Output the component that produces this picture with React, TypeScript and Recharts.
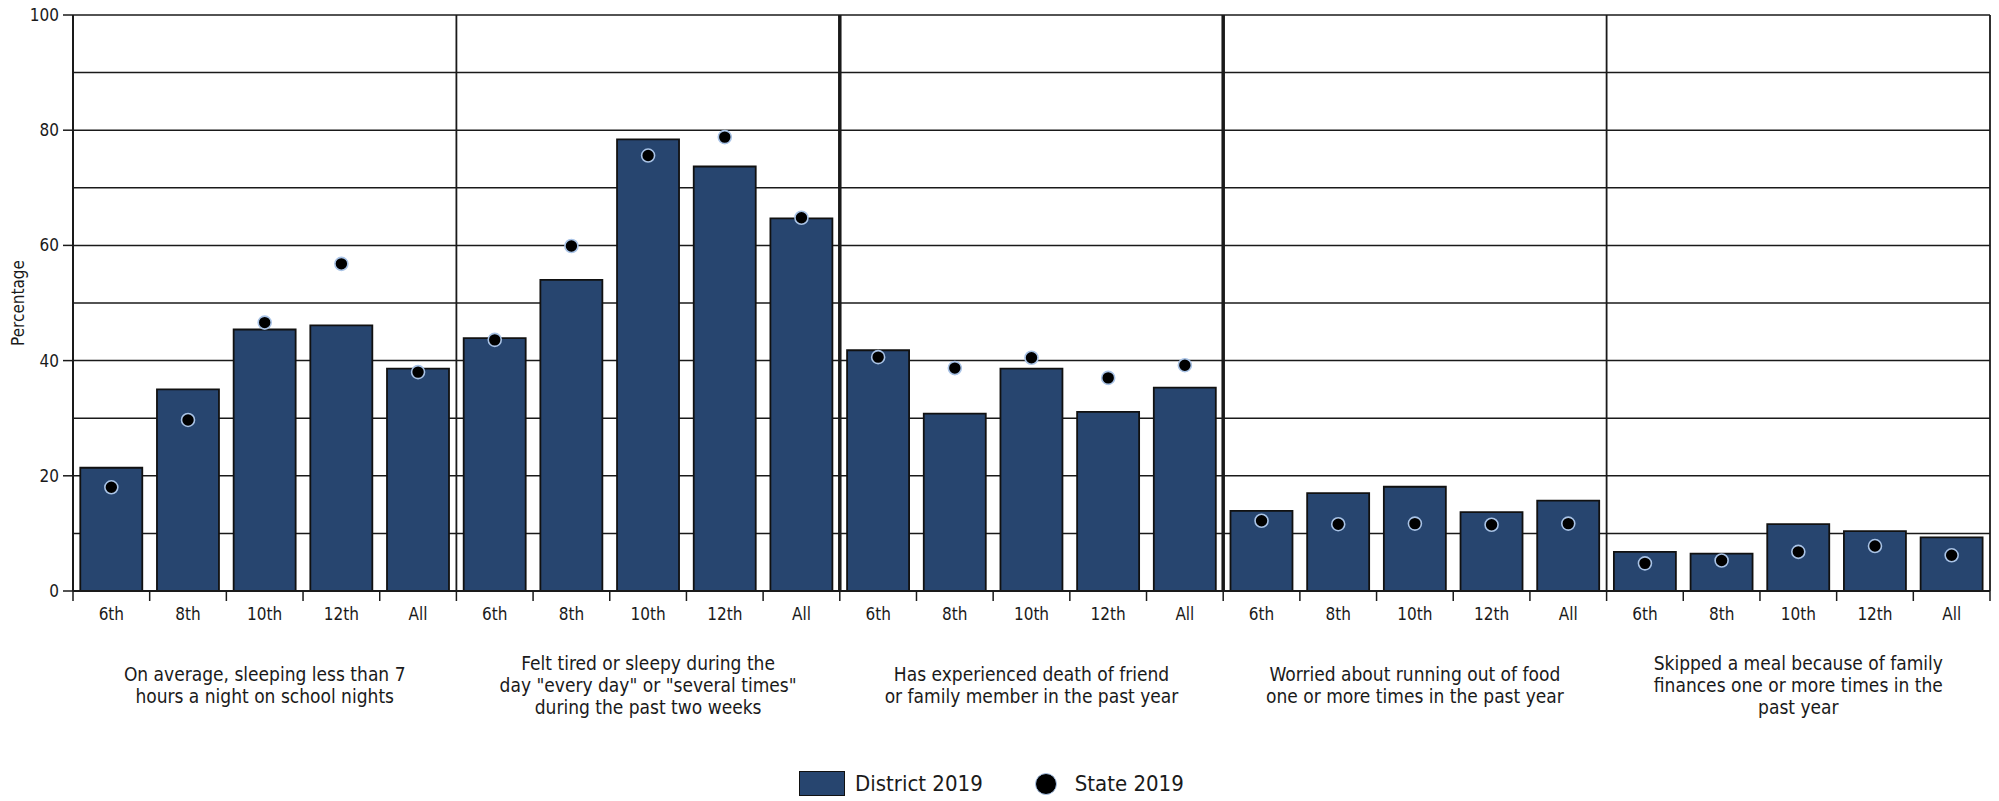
import React from "react";
import { ComposedChart, Bar, Line, XAxis, YAxis, CartesianGrid } from "recharts";

const grades = ["6th", "8th", "10th", "12th", "All"];

const groupLabels = [
  ["On average, sleeping less than 7", "hours a night on school nights"],
  ["Felt tired or sleepy during the", 'day "every day" or "several times"', "during the past two weeks"],
  ["Has experienced death of friend", "or family member in the past year"],
  ["Worried about running out of food", "one or more times in the past year"],
  ["Skipped a meal because of family", "finances one or more times in the", "past year"],
];

const district2019 = [
  [21.4, 35.0, 45.4, 46.1, 38.6],
  [43.9, 54.0, 78.4, 73.7, 64.7],
  [41.8, 30.8, 38.6, 31.1, 35.3],
  [13.9, 17.0, 18.1, 13.7, 15.7],
  [6.8, 6.5, 11.6, 10.4, 9.3],
];

const state2019 = [
  [18.0, 29.7, 46.6, 56.8, 38.0],
  [43.6, 59.9, 75.6, 78.8, 64.8],
  [40.6, 38.7, 40.5, 37.0, 39.2],
  [12.2, 11.6, 11.7, 11.5, 11.7],
  [4.8, 5.3, 6.8, 7.8, 6.2],
];

const yTicks = [0, 10, 20, 30, 40, 50, 60, 70, 80, 90, 100];

const rows = groupLabels.flatMap((_, g) =>
  grades.map((grade, i) => ({
    key: `${g}-${grade}`,
    grade,
    group: g,
    district: district2019[g][i],
    state: state2019[g][i],
  }))
);

const W = 1999;
const H = 801;
const MARGIN = { top: 15, right: 9, left: 0, bottom: 0 };
const Y_W = 73;
const PLOT_W = W - MARGIN.left - MARGIN.right - Y_W;
const FONT = "'Liberation Sans Narrow', 'DejaVu Sans Condensed', 'Noto Sans', sans-serif";
const BAR = "#27456f";
const INK = "#1a1a1a";

function YTick(props: any) {
  const { x, y, payload } = props;
  if (payload.value % 20 !== 0) return null;
  return (
    <g>
      <line x1={x + 4} x2={x + 14} y1={y} y2={y} stroke={INK} strokeWidth={1.5} />
      <text x={x} y={y} dy={6} textAnchor="end" fontSize={17} fill={INK} fontFamily={FONT}>
        {payload.value}
      </text>
    </g>
  );
}

function XTick(props: any) {
  const { x, y, payload, width } = props;
  const idx = rows.findIndex((r) => r.key === payload.value);
  if (idx < 0) return null;
  const row = rows[idx];
  const bw = (width || PLOT_W) / rows.length;
  const lines = idx % grades.length === 2 ? groupLabels[row.group] : [];
  const mid = (lines.length - 1) / 2;
  return (
    <g fontFamily={FONT} fill={INK}>
      <line x1={x - bw / 2} x2={x - bw / 2} y1={y} y2={y + 10} stroke={INK} strokeWidth={1.5} />
      {idx === rows.length - 1 && (
        <line x1={x + bw / 2} x2={x + bw / 2} y1={y} y2={y + 10} stroke={INK} strokeWidth={1.5} />
      )}
      <text x={x} y={y + 29} textAnchor="middle" fontSize={17}>
        {row.grade}
      </text>
      {lines.map((l, i) => (
        <text key={i} x={x} y={y + 101 + (i - mid) * 22} textAnchor="middle" fontSize={19}>
          {l}
        </text>
      ))}
    </g>
  );
}

// separators between question groups
const groupLines = (ks: number[]) => ({ offset }: any) =>
  ks.map((k) => offset.left + (offset.width * k) / groupLabels.length);

export default function App() {
  return (
    <div style={{ position: "absolute", left: 0, top: 0, width: W, height: H, background: "#fff" }}>
      <ComposedChart width={W} height={H} data={rows} margin={MARGIN} barCategoryGap="9.5%">
        <CartesianGrid horizontal vertical={false} stroke={INK} strokeWidth={1.5} />
        <CartesianGrid
          horizontal={false}
          vertical
          verticalCoordinatesGenerator={groupLines([1, 4, 5])}
          stroke={INK}
          strokeWidth={1.8}
        />
        <CartesianGrid
          horizontal={false}
          vertical
          verticalCoordinatesGenerator={groupLines([2, 3])}
          stroke={INK}
          strokeWidth={3.5}
        />
        <XAxis
          dataKey="key"
          type="category"
          interval={0}
          height={H - 591}
          tickSize={0}
          tickMargin={0}
          tickLine={false}
          axisLine={{ stroke: INK, strokeWidth: 2 }}
          tick={<XTick />}
        />
        <YAxis
          type="number"
          domain={[0, 100]}
          ticks={yTicks}
          interval={0}
          width={Y_W}
          tickSize={10}
          tickMargin={4}
          tickLine={false}
          axisLine={{ stroke: INK, strokeWidth: 2 }}
          tick={<YTick />}
          label={{
            value: "Percentage",
            angle: -90,
            position: "insideLeft",
            offset: 18,
            style: { textAnchor: "middle", fontSize: 17, fontFamily: FONT, fill: INK },
          }}
        />
        <Bar dataKey="district" name="District 2019" fill={BAR} stroke="#111" strokeWidth={1.8} isAnimationActive={false} />
        <Line
          dataKey="state"
          name="State 2019"
          stroke="transparent"
          strokeWidth={0}
          dot={{ r: 6.5, fill: "#000", stroke: "#a9c3e6", strokeWidth: 1.6 }}
          activeDot={false}
          isAnimationActive={false}
        />
      </ComposedChart>
      <div
        style={{
          position: "absolute",
          left: 799,
          top: 770,
          height: 27,
          display: "flex",
          alignItems: "center",
          fontFamily: FONT,
          fontSize: 22,
          color: INK,
        }}
      >
        <span style={{ width: 46, height: 25, background: BAR, border: "1.5px solid #111", boxSizing: "border-box" }} />
        <span style={{ marginLeft: 10 }}>District 2019</span>
        <span
          style={{
            marginLeft: 52,
            width: 22,
            height: 22,
            borderRadius: "50%",
            background: "#000",
            border: "1.5px solid #a9c3e6",
            boxSizing: "border-box",
          }}
        />
        <span style={{ marginLeft: 18 }}>State 2019</span>
      </div>
    </div>
  );
}
